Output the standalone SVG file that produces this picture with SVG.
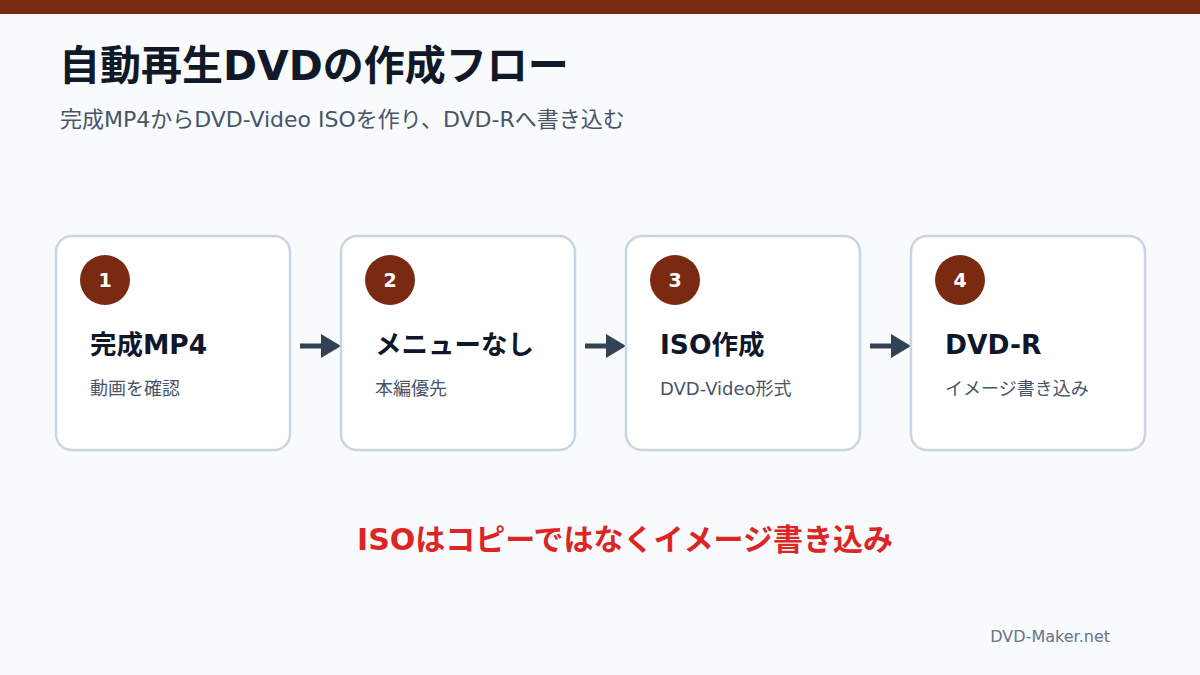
<svg xmlns="http://www.w3.org/2000/svg" width="1200" height="675" viewBox="0 0 1200 675">
<defs>
<style>
.t{font-family:"DejaVu Sans","Noto Sans CJK JP",sans-serif}
.card{fill:#FFFFFF;stroke:#CBD5E1;stroke-width:2.5}
.badge{fill:#7B2A12}
.num{fill:#FFFFFF;font-size:19px;font-weight:700;text-anchor:middle}
.ttl{fill:#0F172A;font-size:26.5px;font-weight:700}
.sub{fill:#475569;font-size:18px}
.conn{stroke:#334155;stroke-width:5;fill:none}
</style>
<marker id="ah" markerWidth="20" markerHeight="24" refX="0" refY="12" markerUnits="userSpaceOnUse" orient="auto">
<path d="M0,0 L20,12 L0,24 Z" fill="#334155"/>
</marker>
</defs>
<rect x="0" y="0" width="1200" height="675" fill="#F8FAFC"/>
<rect x="0" y="0" width="1200" height="14" fill="#7B2A12"/>
<text class="t" x="59" y="80" font-size="41" font-weight="700" fill="#111827">自動再生DVDの作成フロー</text>
<text class="t" x="60" y="127" font-size="22" fill="#475569">完成MP4からDVD-Video ISOを作り、DVD-Rへ書き込む</text>

<g id="connectors">
<line class="conn" x1="300" y1="346" x2="321" y2="346" marker-end="url(#ah)"/>
<line class="conn" x1="585" y1="346" x2="606" y2="346" marker-end="url(#ah)"/>
<line class="conn" x1="870" y1="346" x2="891" y2="346" marker-end="url(#ah)"/>
</g>

<g id="node1">
<rect class="card" x="56" y="236" width="234" height="214" rx="16"/>
<circle class="badge" cx="105" cy="280" r="25"/>
<text class="t num" x="105" y="287">1</text>
<text class="t ttl" x="90" y="354">完成MP4</text>
<text class="t sub" x="90" y="395">動画を確認</text>
</g>
<g id="node2">
<rect class="card" x="341" y="236" width="234" height="214" rx="16"/>
<circle class="badge" cx="390" cy="280" r="25"/>
<text class="t num" x="390" y="287">2</text>
<text class="t ttl" x="375" y="354">メニューなし</text>
<text class="t sub" x="375" y="395">本編優先</text>
</g>
<g id="node3">
<rect class="card" x="626" y="236" width="234" height="214" rx="16"/>
<circle class="badge" cx="675" cy="280" r="25"/>
<text class="t num" x="675" y="287">3</text>
<text class="t ttl" x="660" y="354">ISO作成</text>
<text class="t sub" x="660" y="395">DVD-Video形式</text>
</g>
<g id="node4">
<rect class="card" x="911" y="236" width="234" height="214" rx="16"/>
<circle class="badge" cx="960" cy="280" r="25"/>
<text class="t num" x="960" y="287">4</text>
<text class="t ttl" x="945" y="354">DVD-R</text>
<text class="t sub" x="945" y="395">イメージ書き込み</text>
</g>

<text class="t" x="625" y="550" font-size="30" font-weight="700" fill="#DC2626" text-anchor="middle">ISOはコピーではなくイメージ書き込み</text>
<text class="t" x="1110" y="642" font-size="16" fill="#64748B" text-anchor="end">DVD-Maker.net</text>
</svg>
